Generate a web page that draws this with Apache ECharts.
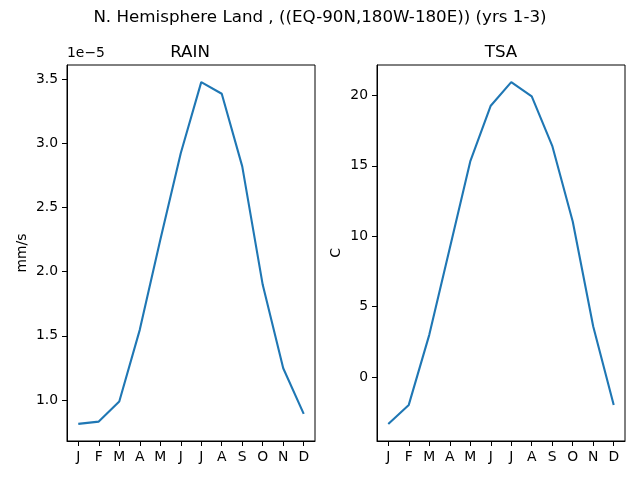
<!DOCTYPE html>
<html>
<head>
<meta charset="utf-8">
<script src="https://cdn.jsdelivr.net/npm/echarts@6/dist/echarts.min.js"></script>
<style>html,body{margin:0;padding:0;background:#fff}#c{width:640px;height:480px}</style>
</head>
<body>
<div id="c"></div>
<script>
const months = ['J','F','M','A','M','J','J','A','S','O','N','D'];
// RAIN in units of 1e-5 mm/s
const rainE5 = [0.813,0.831,0.987,1.546,2.247,2.923,3.477,3.386,2.82,1.897,1.247,0.891];
// TSA in C
const tsa = [-3.34,-1.99,2.99,9.15,15.31,19.27,20.95,19.93,16.42,11.04,3.58,-1.99];
const rainTicks = [1.0,1.5,2.0,2.5,3.0,3.5];
const tsaTicks = [0,5,10,15,20];

const FONT = 'DejaVu Sans';
const idx = months.map((m,i)=>i);
function pad(arr){const lo=Math.min(...arr),hi=Math.max(...arr),d=(hi-lo)*0.05;return [lo-d,hi+d];}
const [rMin,rMax]=pad(rainE5), [tMin,tMax]=pad(tsa);

function xAxis(gi){
  return {type:'value',gridIndex:gi,min:-0.55,max:11.55,
    axisLine:{show:true,onZero:false,lineStyle:{color:'#000',width:1}},splitLine:{show:false},
    axisTick:{show:true,inside:false,length:5,lineStyle:{color:'#000'},customValues:idx},
    axisLabel:{fontFamily:FONT,fontSize:13.9,color:'#000',margin:9,customValues:idx,formatter:v=>months[Math.round(v)]}};
}
function yAxis(gi,min,max,ticks,name,gap,fmt){
  return {type:'value',gridIndex:gi,min:min,max:max,name:name,nameLocation:'middle',nameGap:gap,
    nameTextStyle:{fontFamily:FONT,fontSize:13.9,color:'#000'},
    axisLine:{show:true,onZero:false,lineStyle:{color:'#000',width:1}},splitLine:{show:false},
    axisTick:{show:true,inside:false,length:5,lineStyle:{color:'#000'},customValues:ticks},
    axisLabel:{fontFamily:FONT,fontSize:13.9,color:'#000',margin:9,customValues:ticks,formatter:fmt}};
}
const chart = echarts.init(document.getElementById('c'),null,{renderer:'canvas'});
chart.setOption({
  animation:false,
  backgroundColor:'#fff',
  title:[
    {text:'N. Hemisphere Land , ((EQ-90N,180W-180E)) (yrs 1-3)',left:315,textAlign:'center',top:4,textStyle:{fontFamily:FONT,fontSize:16.7,fontWeight:'normal',color:'#000'}},
    {text:'RAIN',left:185,textAlign:'center',top:39,textStyle:{fontFamily:FONT,fontSize:16.7,fontWeight:'normal',color:'#000'}},
    {text:'TSA',left:496,textAlign:'center',top:39,textStyle:{fontFamily:FONT,fontSize:16.7,fontWeight:'normal',color:'#000'}}
  ],
  graphic:[{type:'text',left:67,top:46,style:{text:'1e\u22125',fontFamily:FONT,fontSize:13.9,fill:'#000'}}],
  grid:[
    {left:67,right:325,top:65,bottom:39,show:true,borderColor:'#000',borderWidth:1,containLabel:false},
    {left:377,right:15,top:65,bottom:39,show:true,borderColor:'#000',borderWidth:1,containLabel:false}
  ],
  xAxis:[xAxis(0),xAxis(1)],
  yAxis:[
    yAxis(0,rMin,rMax,rainTicks,'mm/s',38,v=>v.toFixed(1)),
    yAxis(1,tMin,tMax,tsaTicks,'C',34,v=>String(Math.round(v)))
  ],
  series:[
    {type:'line',xAxisIndex:0,yAxisIndex:0,data:rainE5.map((v,i)=>[i,v]),showSymbol:false,lineStyle:{color:'#1f77b4',width:2.1},itemStyle:{color:'#1f77b4'}},
    {type:'line',xAxisIndex:1,yAxisIndex:1,data:tsa.map((v,i)=>[i,v]),showSymbol:false,lineStyle:{color:'#1f77b4',width:2.1},itemStyle:{color:'#1f77b4'}}
  ]
});
</script>
</body>
</html>
